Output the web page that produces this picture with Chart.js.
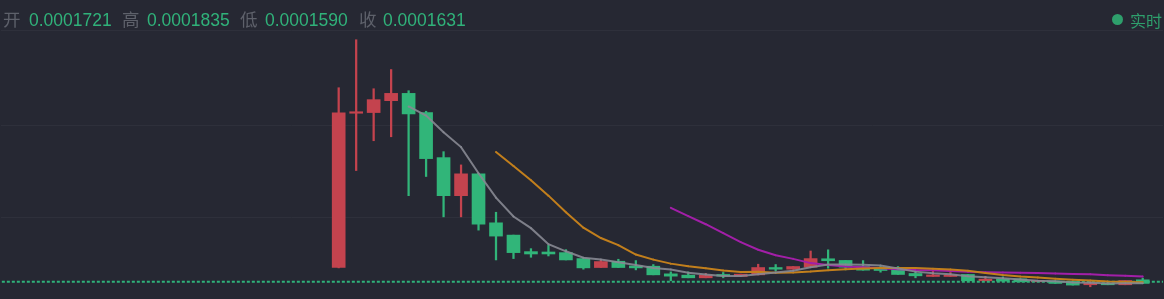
<!DOCTYPE html>
<html>
<head>
<meta charset="utf-8">
<script src="https://cdn.jsdelivr.net/npm/chart.js@4.4.0/dist/chart.umd.min.js"></script>
<style>
html,body{margin:0;padding:0;background:#262833;overflow:hidden;}
#wrap{position:relative;width:1164px;height:299px;}
#c{position:absolute;left:0;top:0;}
.t{position:absolute;top:12px;font-family:"Liberation Sans","Noto Sans CJK SC",sans-serif;font-size:17.5px;line-height:17px;white-space:nowrap;}
.lbl{color:#5e616b;}
.val{color:#30b27a;}
#live{position:absolute;top:12px;left:1130px;font-family:"Noto Sans CJK SC",sans-serif;font-size:16px;line-height:17px;color:#2e9f6c;}
#dot{position:absolute;left:1112px;top:14px;width:11px;height:11px;border-radius:50%;background:#2e9f6c;}
</style>
</head>
<body>
<div id="wrap">
  <canvas id="c" width="1164" height="299"></canvas>
  <span class="t lbl" style="left:3px">开</span><span class="t val" style="left:29px">0.0001721</span>
  <span class="t lbl" style="left:122px">高</span><span class="t val" style="left:147px">0.0001835</span>
  <span class="t lbl" style="left:240px">低</span><span class="t val" style="left:265px">0.0001590</span>
  <span class="t lbl" style="left:359px">收</span><span class="t val" style="left:383px">0.0001631</span>
  <div id="dot"></div><span id="live">实时</span>
</div>
<script>
// Prices are in units of 1e-7 (e.g. 1631 = 0.0001631)
const candleNo = [1,2,3,4,5,6,7,8,9,10,11,12,13,14,15,16,17,18,19,20,21,22,23,24,25,26,27,28,29,30,31,32,33,34,35,36,37,38,39,40,41,42,43,44,45,46,47];
const opens  = [1983,5400,5415,5679,5840,5415,4417,3574,4058,2973,2701,2335,2327,2313,2181,1983,2122,2019,2012,1843,1814,1755,1829,1785,1821,1983,1946,1990,2177,2140,2005,1953,1953,1851,1785,1785,1829,1689,1726,1733,1667,1682,1675,1601,1631,1601,1711];
const highs  = [5965,7028,5943,6368,5899,5444,4549,4256,4070,3207,2701,2401,2474,2379,2210,2151,2166,2137,2049,1887,1887,1851,1873,1836,2056,2049,2005,2349,2375,2140,2137,2005,2005,1909,1909,1873,1829,1785,1777,1733,1689,1682,1675,1675,1675,1697,1748];
const lows   = [1975,4131,4791,4879,3574,3999,3105,3105,2811,2151,2181,2210,2239,2151,1946,1983,1983,1931,1821,1689,1755,1755,1755,1785,1821,1909,1946,1990,1968,1931,1924,1880,1829,1755,1785,1785,1689,1689,1682,1667,1667,1631,1594,1557,1601,1601,1631];
const closes = [5407,5429,5701,5840,5385,4395,3574,4058,2943,2679,2313,2283,2283,2151,1975,2115,1983,1975,1821,1792,1755,1814,1792,1836,1983,1946,2005,2181,2133,1990,1924,1917,1829,1799,1814,1814,1689,1726,1682,1667,1689,1631,1594,1638,1601,1697,1631];
const ma5  = [null,null,null,null,5552,5350,4979,4650,4071,3530,3113,2855,2500,2342,2201,2161,2101,2040,1974,1937,1865,1831,1795,1798,1836,1874,1912,1990,2050,2051,2047,2029,1959,1892,1857,1835,1789,1768,1745,1716,1691,1679,1653,1644,1631,1632,1632];
const ma10 = [null,null,null,null,null,null,null,null,null,4541,4232,3917,3575,3206,2865,2637,2478,2270,2158,2069,2013,1966,1917,1886,1887,1870,1872,1893,1924,1944,1960,1971,1974,1971,1954,1941,1909,1864,1818,1786,1763,1734,1711,1694,1673,1661,1656];
const ma20 = [null,null,null,null,null,null,null,null,null,null,null,null,null,null,null,null,null,null,null,3305,3123,2942,2746,2546,2376,2254,2175,2081,2041,2006,1987,1969,1946,1928,1920,1905,1890,1878,1871,1865,1862,1852,1842,1833,1813,1801,1782];
const lastPrice = 1667;
const gridLevels = [3090, 5136, 7226];

const UP = '#c4434e', DOWN = '#31b579';
const isUp = i => closes[i] >= opens[i];
const candleColor = ctx => (ctx.dataIndex !== undefined && isUp(ctx.dataIndex)) ? UP : DOWN;
const maLine = (label, arr, color) => ({
  type: 'line', label,
  data: candleNo.map((n, i) => ({x: n, y: arr[i]})),
  borderColor: color, backgroundColor: color, borderWidth: 2,
  pointRadius: 1, pointHoverRadius: 0, pointBorderWidth: 0,
  tension: 0, order: 0, spanGaps: false
});

new Chart(document.getElementById('c'), {
  data: {
    datasets: [
      maLine('MA5', ma5, 'rgba(135,136,146,0.9)'),
      maLine('MA10', ma10, '#c27f1c'),
      maLine('MA20', ma20, '#a21fa8'),
      {
        type: 'line', label: 'last',
        data: [{x: -30, y: lastPrice}, {x: 60, y: lastPrice}],
        borderColor: '#2fb27a', borderWidth: 2, borderDash: [3, 2],
        pointRadius: 0, order: 0
      },
      {
        type: 'bar', label: 'body',
        data: candleNo.map((n, i) => ({x: n, y: [opens[i], closes[i]]})),
        backgroundColor: candleColor, borderWidth: 0,
        barThickness: 13, grouped: false, minBarLength: 1.5, order: 1
      },
      {
        type: 'bar', label: 'wick',
        data: candleNo.map((n, i) => ({x: n, y: [lows[i], highs[i]]})),
        backgroundColor: candleColor, borderWidth: 0,
        barThickness: 1.6, grouped: false, order: 2
      }
    ]
  },
  options: {
    responsive: false, animation: false, devicePixelRatio: 1,
    layout: {padding: 0},
    plugins: {legend: {display: false}, tooltip: {enabled: false}},
    scales: {
      x: {type: 'linear', min: -18.32, max: 48.16, display: false, offset: false},
      y: {
        type: 'linear', min: 1308, max: 7886, position: 'right',
        ticks: {display: false},
        border: {display: false},
        grid: {color: '#2e303b', drawTicks: false, lineWidth: 1},
        afterBuildTicks: s => { s.ticks = gridLevels.map(v => ({value: v})); }
      }
    }
  }
});
</script>
</body>
</html>
